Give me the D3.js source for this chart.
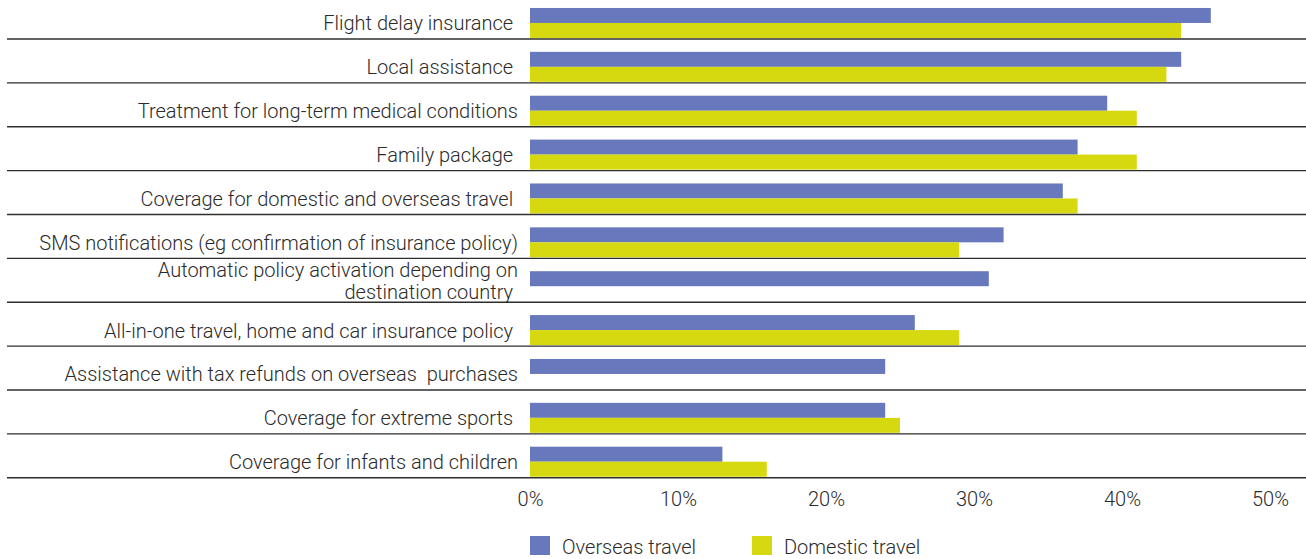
<!DOCTYPE html>
<html>
<head>
<meta charset="utf-8">
<script src="https://cdn.jsdelivr.net/npm/d3@7"></script>
<style>
  body { margin: 0; background: #fff; }
  text { font-family: Roboto, "Liberation Sans", sans-serif; font-weight: 300; fill: #2b2b2b; white-space: pre; }
</style>
</head>
<body>
<svg id="chart" width="1306" height="559"></svg>
<script>
// categories, top to bottom (trailing spaces kept as in the original labels)
const categories = [
  "Flight delay insurance ",
  "Local assistance ",
  "Treatment for long-term medical conditions",
  "Family package ",
  "Coverage for domestic and overseas travel ",
  "SMS notifications (eg confirmation of insurance policy)",
  "Automatic policy activation depending on\ndestination country ",
  "All-in-one travel, home and car insurance policy ",
  "Assistance with tax refunds on overseas  purchases",
  "Coverage for extreme sports ",
  "Coverage for infants and children"
];
const overseas = [46, 44, 39, 37, 36, 32, 31, 26, 24, 24, 13];
const domestic = [44, 43, 41, 41, 37, 29, null, 29, null, 25, 16];
const seriesNames = ["Overseas travel", "Domestic travel"];
const colours = ["#6878bc", "#d6d90f"];
const xTicks = [0, 10, 20, 30, 40, 50];

const svg = d3.select("#chart");

const x = d3.scaleLinear().domain([0, 50]).range([530, 1270]);
const y = d3.scaleBand().domain(categories).range([-5.9, 476.7]);
const barH = 15;
const sub = d3.scaleBand().domain(seriesNames).range([y.bandwidth() - 2 * barH, y.bandwidth()]);

const rows = categories.map((c, i) => ({ cat: c, values: [overseas[i], domestic[i]] }));

const row = svg.selectAll("g.row").data(rows).join("g")
    .attr("class", "row")
    .attr("transform", d => `translate(0,${y(d.cat)})`);

row.selectAll("rect").data(d => d.values.map((v, j) => ({ v, s: seriesNames[j], j })).filter(e => e.v != null))
  .join("rect")
    .attr("x", x(0))
    .attr("y", e => sub(e.s))
    .attr("width", e => x(e.v) - x(0))
    .attr("height", sub.bandwidth())
    .attr("fill", e => colours[e.j]);

// row separators
row.append("line")
    .attr("x1", 7).attr("x2", 1306)
    .attr("y1", y.bandwidth() + 1).attr("y2", y.bandwidth() + 1)
    .attr("stroke", "#2e2e2e").attr("stroke-width", 1.4);

// labels, centred on the boundary between the two bars
row.each(function (d) {
  const lines = d.cat.split("\n");
  const cy = sub(seriesNames[1]);
  const lh = 22;
  const shift = lines.length > 1 ? -6 : 0;
  const t = d3.select(this).append("text")
      .attr("text-anchor", "end")
      .attr("font-size", 20);
  lines.forEach((l, k) => {
    t.append("tspan")
      .attr("x", 518)
      .attr("y", cy + 7.5 + shift + (k - (lines.length - 1) / 2) * lh)
      .text(l);
  });
});

// x axis tick labels
const axis = d3.axisBottom(x).tickValues(xTicks).tickFormat(d => d + "%").tickSize(0).tickPadding(0);
const ax = svg.append("g").attr("transform", "translate(0,506)").call(axis);
ax.select(".domain").remove();
ax.selectAll("text")
    .attr("dy", 0)
    .attr("font-size", 20)
    .attr("font-family", null)
    .style("fill", "#2b2b2b");

// legend
const legend = svg.append("g").attr("transform", "translate(0,536)");
const legX = [530, 752];
seriesNames.forEach((s, i) => {
  legend.append("rect").attr("x", legX[i]).attr("y", 0).attr("width", 20).attr("height", 19).attr("fill", colours[i]);
  legend.append("text").attr("x", legX[i] + 32).attr("y", 18).attr("font-size", 20).text(s);
});
</script>
</body>
</html>
